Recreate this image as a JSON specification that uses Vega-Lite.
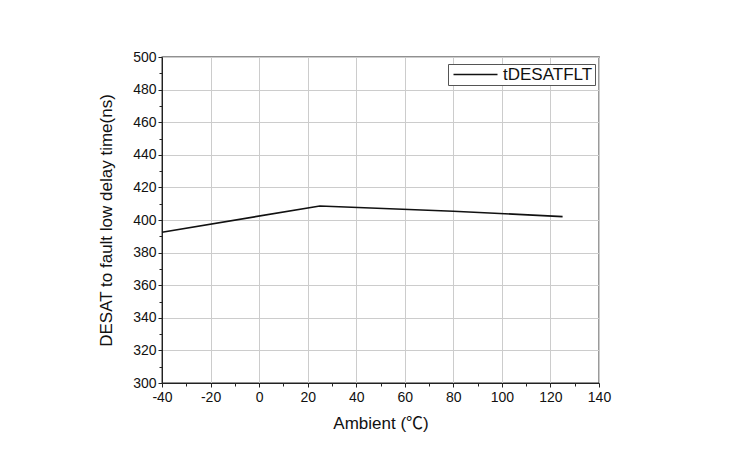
{
  "$schema": "https://vega.github.io/schema/vega-lite/v6.json",
  "width": 437,
  "height": 326,
  "autosize": {"type": "none"},
  "padding": {"left": 162, "top": 57, "right": 135, "bottom": 71},
  "background": "white",
  "config": {
    "view": {"stroke": "#222", "strokeWidth": 1.3},
    "font": "Liberation Sans",
    "axis": {
      "labelFont": "Liberation Sans",
      "titleFont": "Liberation Sans, Noto Sans CJK SC",
      "labelColor": "#111",
      "titleColor": "#111",
      "labelFontSize": 14,
      "titleFontSize": 17,
      "titleFontWeight": "normal",
      "domainColor": "#222",
      "tickColor": "#222",
      "gridColor": "#cccccc",
      "gridWidth": 1
    }
  },
  "data": {
    "values": [
      {"temp": -40, "delay": 392.5, "series": "tDESATFLT"},
      {"temp": 25, "delay": 408.6, "series": "tDESATFLT"},
      {"temp": 80, "delay": 405.4, "series": "tDESATFLT"},
      {"temp": 125, "delay": 402.1, "series": "tDESATFLT"}
    ]
  },
  "layer": [
    {
      "mark": {"type": "line", "strokeWidth": 1.6},
      "encoding": {
        "x": {
          "field": "temp", "type": "quantitative",
          "scale": {"domain": [-40, 140], "nice": false, "zero": false},
          "axis": {
            "values": [-40, -20, 0, 20, 40, 60, 80, 100, 120, 140],
            "labelExpr": "datum.value < 0 ? '-' + abs(datum.value) : '' + datum.value",
            "title": "Ambient (℃)",
            "grid": true, "tickSize": 4, "labelPadding": 3,
            "titlePadding": 11, "labelFlush": false
          }
        },
        "y": {
          "field": "delay", "type": "quantitative",
          "scale": {"domain": [300, 500], "nice": false, "zero": false},
          "axis": {
            "values": [300, 320, 340, 360, 380, 400, 420, 440, 460, 480, 500],
            "title": "DESAT to fault low delay time(ns)",
            "grid": true, "tickSize": 4, "labelPadding": 2,
            "titlePadding": 17, "labelFlush": false
          }
        },
        "color": {
          "field": "series", "type": "nominal",
          "scale": {"range": ["#111111"]},
          "legend": {
            "title": null,
            "orient": "none",
            "legendX": 286,
            "legendY": 7,
            "symbolType": "M-1,0H7.8",
            "symbolSize": 100,
            "symbolStrokeWidth": 1.6,
            "labelFontSize": 17,
            "labelFont": "Liberation Sans",
            "labelColor": "#111",
            "labelOffset": 36,
            "padding": 2,
            "strokeColor": "#555",
            "fillColor": "white"
          }
        }
      }
    },
    {
      "mark": {"type": "line", "strokeOpacity": 0},
      "encoding": {
        "x": {
          "field": "temp", "type": "quantitative",
          "axis": {
            "orient": "bottom",
            "values": [-30, -10, 10, 30, 50, 70, 90, 110, 130],
            "labels": false, "grid": false, "domain": false,
            "tickSize": 3, "title": null
          }
        },
        "y": {
          "field": "delay", "type": "quantitative",
          "axis": {
            "orient": "left",
            "values": [310, 330, 350, 370, 390, 410, 430, 450, 470, 490],
            "labels": false, "grid": false, "domain": false,
            "tickSize": 3, "title": null
          }
        }
      }
    }
  ],
  "resolve": {"axis": {"x": "independent", "y": "independent"}}
}
